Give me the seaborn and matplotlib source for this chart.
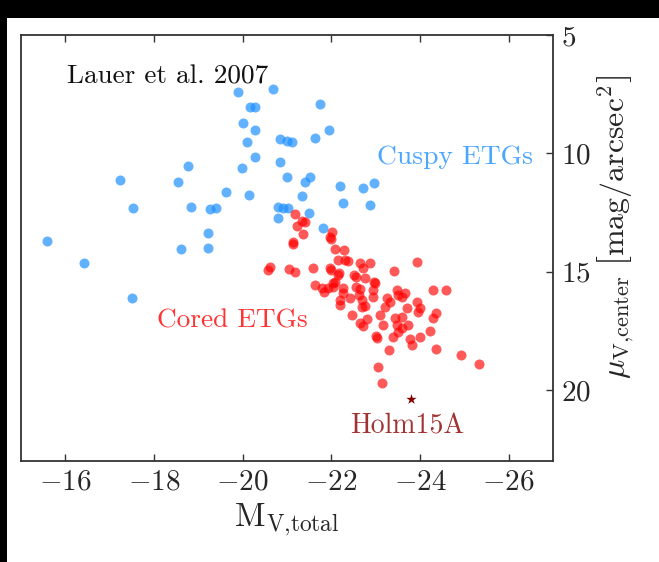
import numpy as np
import pandas as pd
import matplotlib
matplotlib.use("Agg")
import matplotlib.pyplot as plt
import seaborn as sns
from matplotlib.patches import Rectangle

# ---- data ----
cuspy_mv = [-19.90, -20.69, -21.75, -20.17, -20.28, -20.01, -20.28, -20.85, -21.00, -21.12,
            -21.64, -20.10, -20.28, -20.85, -19.99, -18.77, -21.00, -21.52, -21.41, -17.23,
            -18.54, -19.63, -20.15, -21.34, -17.53, -18.84, -19.27, -19.40, -20.80, -20.91,
            -21.03, -21.50, -20.80, -21.82, -19.22, -15.59, -18.61, -19.22, -16.42, -17.51,
            -21.95, -22.20, -22.72, -22.97, -22.27, -22.88]
cuspy_mu = [7.42, 7.29, 7.92, 8.05, 8.05, 8.73, 9.03, 9.41, 9.49, 9.53,
            9.36, 9.53, 10.17, 10.38, 10.64, 10.55, 11.02, 11.02, 11.23, 11.14,
            11.23, 11.65, 11.78, 11.82, 12.29, 12.25, 12.37, 12.29, 12.25, 12.29,
            12.29, 12.50, 12.75, 13.14, 13.35, 13.69, 14.03, 13.98, 14.62, 16.10,
            9.03, 11.40, 11.48, 11.27, 12.08, 12.20]

cored_mv = [-21.19, -21.34, -21.41, -21.23, -21.37, -22.02, -21.98, -22.00, -21.14, -21.14,
            -22.09, -22.29, -22.16, -22.31, -22.38, -22.65, -22.88, -23.94, -20.62, -20.58,
            -21.05, -21.19, -21.59, -21.98, -22.00, -22.72, -23.42, -22.18, -22.16, -22.52,
            -22.56, -22.77, -22.97, -22.99, -22.09, -22.04, -21.64, -21.79, -21.84, -21.93,
            -22.04, -22.27, -22.56, -22.65, -22.95, -22.27, -22.63, -22.95, -23.49, -23.67,
            -24.30, -24.59, -22.43, -22.70, -23.26, -23.33, -23.51, -23.60, -23.94, -22.20,
            -22.20, -23.22, -22.70, -22.77, -23.71, -24.01, -23.96, -24.35, -22.47, -23.10,
            -23.44, -23.60, -24.30, -22.81, -22.65, -22.72, -23.17, -23.74, -23.49, -23.60,
            -23.51, -23.40, -24.23, -23.01, -23.04, -24.01, -23.78, -23.83, -23.31, -24.35,
            -24.93, -25.32, -23.06, -23.15]
cored_mu = [12.58, 12.88, 12.92, 13.05, 13.39, 13.31, 13.52, 13.60, 13.73, 13.81,
            14.03, 14.07, 14.49, 14.49, 14.53, 14.62, 14.62, 14.58, 14.79, 14.92,
            14.87, 15.00, 14.83, 14.83, 14.92, 14.83, 14.96, 15.04, 15.13, 15.13,
            15.21, 15.25, 15.42, 15.47, 15.42, 15.47, 15.55, 15.68, 15.85, 15.68,
            15.64, 15.68, 15.64, 15.72, 15.76, 15.89, 15.97, 16.06, 15.76, 15.89,
            15.76, 15.76, 16.10, 16.19, 16.10, 16.27, 15.97, 16.06, 16.27, 16.40,
            16.19, 16.48, 16.48, 16.44, 16.53, 16.53, 16.69, 16.74, 16.82, 16.82,
            16.95, 16.91, 16.95, 16.99, 17.16, 17.29, 17.25, 17.25, 17.25, 17.37,
            17.54, 17.75, 17.50, 17.71, 17.80, 17.75, 17.84, 18.09, 18.31, 18.26,
            18.52, 18.90, 19.03, 19.70]

holm_mv = [-23.80]
holm_mu = [20.38]

xticks = [-16, -18, -20, -22, -24, -26]
yticks = [5, 10, 15, 20]

# ---- style ----
sns.set_style("white")
plt.rcParams["font.family"] = ["serif"]
plt.rcParams["font.serif"] = ["cmr10", "DejaVu Serif"]
plt.rcParams["mathtext.fontset"] = "cm"
plt.rcParams["axes.formatter.use_mathtext"] = True

W, H = 659, 562
fig = plt.figure(figsize=(W / 100, H / 100), dpi=100, facecolor="black")
fig.patches.append(Rectangle((7 / W, 0), 1 - 7 / W, 1 - 18 / H,
                             transform=fig.transFigure, facecolor="white",
                             edgecolor="none", zorder=-10))
ax = fig.add_axes([21 / W, 1 - 461 / H, (553 - 21) / W, (461 - 35) / H])

df_cu = pd.DataFrame({"mv": cuspy_mv, "mu": cuspy_mu})
df_co = pd.DataFrame({"mv": cored_mv, "mu": cored_mu})
df_h = pd.DataFrame({"mv": holm_mv, "mu": holm_mu})

sns.scatterplot(data=df_cu, x="mv", y="mu", ax=ax, color="#1E90FF", alpha=0.7,
                s=52, linewidth=0)
sns.scatterplot(data=df_co, x="mv", y="mu", ax=ax, color="#FF0000", alpha=0.65,
                s=52, linewidth=0)
sns.scatterplot(data=df_h, x="mv", y="mu", ax=ax, color="#800000", marker="*",
                s=60, linewidth=0)

ax.set_xlim(-15, -27)
ax.set_ylim(23, 5)
ax.set_xticks(xticks)
ax.set_yticks(yticks)
ax.yaxis.tick_right()
ax.yaxis.set_label_position("right")
ax.tick_params(axis="x", which="both", direction="in", top=True, bottom=True,
               length=5, width=1, labelsize=21, pad=6, color="#333333")
ax.tick_params(axis="y", which="both", direction="in", right=True, left=False,
               length=5, width=1, labelsize=21, pad=6, color="#333333")
for sp in ax.spines.values():
    sp.set_visible(True)
    sp.set_color("#333333")
    sp.set_linewidth(1.3)

ax.set_xlabel(r"$\rm M_{V{,}total}$", fontsize=24, labelpad=4)
ax.set_ylabel(r"$\mu_{\rm V{,}center}\ \left[\rm mag/arcsec^2\right]$", fontsize=23,
              labelpad=3)
ax.yaxis.label.set_y(0.55)

ax.text(-16.04, 7.03, "Lauer et al. 2007", fontsize=19.6, color="#111111",
        ha="left", va="baseline")
ax.text(-23.04, 10.47, "Cuspy ETGs", fontsize=19.8, color="#1E90FF", alpha=0.8,
        ha="left", va="baseline")
ax.text(-18.07, 17.37, "Cored ETGs", fontsize=19.7, color="#FF0000", alpha=0.8,
        ha="left", va="baseline")
ax.text(-22.43, 21.82, "Holm15A", fontsize=20, color="#8B0000", alpha=0.8,
        ha="left", va="baseline")

fig.savefig("out.png", dpi=100, facecolor=fig.get_facecolor())
